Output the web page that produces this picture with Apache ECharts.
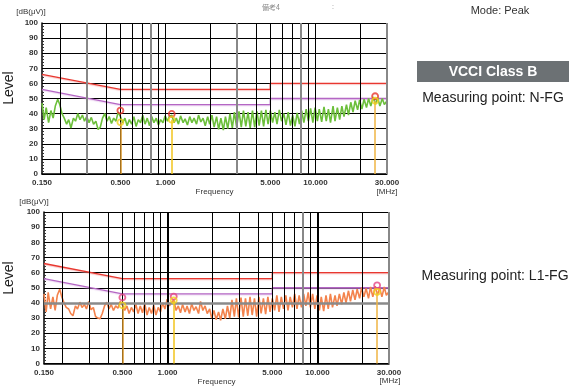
<!DOCTYPE html>
<html>
<head>
<meta charset="utf-8">
<script src="https://cdn.jsdelivr.net/npm/echarts@6/dist/echarts.min.js"></script>
<style>
html,body{margin:0;padding:0;background:#fff}
#c{width:581px;height:390px}
</style>
</head>
<body>
<div id="c"></div>
<script>
// Sweep frequencies [MHz]
const freqs = [
  0.150,0.155,0.160,0.166,0.172,0.178,0.184,0.191,0.197,0.204,
  0.211,0.219,0.226,0.234,0.243,0.251,0.260,0.269,0.279,0.288,
  0.298,0.309,0.320,0.331,0.343,0.355,0.367,0.380,0.393,0.407,
  0.421,0.436,0.451,0.467,0.483,0.500,0.518,0.536,0.554,0.574,
  0.594,0.615,0.636,0.658,0.681,0.705,0.730,0.755,0.782,0.809,
  0.837,0.867,0.897,0.928,0.961,0.994,1.03,1.06,1.10,1.14,
  1.18,1.22,1.26,1.31,1.35,1.40,1.45,1.50,1.55,1.61,
  1.66,1.72,1.78,1.84,1.91,1.97,2.04,2.11,2.19,2.26,
  2.34,2.43,2.51,2.60,2.69,2.79,2.88,2.98,3.09,3.20,
  3.31,3.43,3.55,3.67,3.80,3.93,4.07,4.21,4.36,4.51,
  4.67,4.83,5.00,5.18,5.36,5.54,5.74,5.94,6.15,6.36,
  6.58,6.81,7.05,7.30,7.55,7.82,8.09,8.37,8.67,8.97,
  9.28,9.61,9.94,10.3,10.6,11.0,11.4,11.8,12.2,12.6,
  13.1,13.5,14.0,14.5,15.0,15.5,16.1,16.6,17.2,17.8,
  18.4,19.1,19.7,20.4,21.1,21.9,22.6,23.4,24.3,25.1,
  26.0,26.9,27.9,28.8,29.8
];

// Peak trace, measuring point N-FG [dB(uV)]
const levelNFG = [
  47,36,44,34,42,37,45,49.5,46,40,
  37,33,36,30.5,37,35,40,36,39,35,
  38,34,37.5,33,35,29.5,31,37,40,35,
  38,33.5,37,35,41,38,34,37,32,36,
  33,38,31.5,36,34,39,33,37,32,38,
  34,37,32.5,36,34,38.5,35,38,39,34,
  37,33,38.5,34,36.5,32.5,38,34,37,33,
  39,34.5,37,32,38,33,39,31,38,29.5,
  37,29,38,30,40,30.5,41,31,41.5,31,
  42,31.5,41,30.5,42,31,41.5,32,42,31.5,
  42.5,33,42,34,41,33,42.5,35,40,32.5,
  41,32,39,31.5,40.5,33,42,34,43,35,
  43.5,34,44,35,43,34.5,44.5,35,43,34,
  45,35,44,36,45,38,46,39,47.5,41,
  48.5,42.5,49,43,49.5,44,50,45,51,46,
  50.5,45,50,46,48
];

// Peak trace, measuring point L1-FG [dB(uV)]
const levelL1FG = [
  46,34,47,36,44,35,45,49,44,40,
  37,36,33,31.5,38,36,40.5,37,39,36,
  41,35.5,37,31,30,29.5,33,38,40.5,36,
  39,35,38,36.5,41,38.5,35,38,33,37,
  34,39,33,38,33.5,39.5,32,37,33,38.5,
  32,37,34,40,36,42.5,38,40,42,35,
  38,33.5,39,34,38,33,39.5,35,37.5,33,
  41,35,38,33,36,30,35,29,34,28.5,
  36,29.5,38,30,42,31,43,30.5,43.5,31,
  43,31.5,44,32,43,31,44,33,43,32.5,
  44,34,43,35,45,34,44,36,45,35,
  44,37,46,36,45,37,46,38,47,37,
  46,36,45,35,44,34.5,45,36,46,37,
  45,38,46,39,47,40,48,41,48.5,42,
  49,43,50,44,49.5,43,50.5,44,51,45,
  50,44,50.5,45,47
];

// VCCI Class B conducted limits
const limitQP = [[0.15,66],[0.5,56],[5,56],[5,60],[30,60]];
const limitAV = [[0.15,56],[0.5,46],[5,46],[5,50],[30,50]];

// Marked peaks: frequency, quasi-peak level, average level
const peakFreqNFG = [0.5, 1.1, 25];
const peakQpNFG = [42, 39.8, 51.5];
const peakAvNFG = [34.2, 36, 48.5];
const peakFreqL1FG = [0.5, 1.1, 25];
const peakQpL1FG = [43.6, 44.2, 51.6];
const peakAvL1FG = [38.4, 41.7, 47.2];

// Axis ticks
const gridFreqs = [0.2,0.3,0.4,0.5,0.6,0.7,0.8,0.9,1,2,3,4,5,6,7,8,9,10,20];
const xLabelFreqs = [0.15,0.5,1,5,10,30];

const FONT = 'Liberation Sans, Arial, sans-serif';
const stemColors = ['#d9962a','#f2c51c','#efb443'];

const chart = echarts.init(document.getElementById('c'));

const grids = [
  {left:42, right:194, top:23, height:151},
  {left:44, right:192, top:212, height:151.5}
];

function xAxisFor(i){
  return {
    type:'log', gridIndex:i, min:0.15, max:30, logBase:10,
    axisLine:{show:true, lineStyle:{color:'#000', width:1.5}},
    axisTick:{show:false},
    splitLine:{show:false},
    minorSplitLine:{show:false},
    axisLabel:{
      customValues: xLabelFreqs,
      formatter: v => Number(v).toFixed(3),
      fontFamily:FONT, fontSize:8, fontWeight:'bold', color:'#333', margin:5
    },
    name:'Frequency', nameLocation:'middle', nameGap:14,
    nameTextStyle:{fontFamily:FONT, fontSize:8, color:'#333'}
  };
}
function yAxisFor(i){
  return {
    type:'value', gridIndex:i, min:0, max:100, interval:10,
    axisLine:{show:true, lineStyle:{color:'#000', width:1.5}},
    axisTick:{show:true, inside:true, length:4, lineStyle:{color:'#000'}},
    minorTick:{show:true, splitNumber:5, length:2, lineStyle:{color:'#333'}},
    splitLine:{show:true, lineStyle:{color:'#000', width:1}},
    axisLabel:{fontFamily:FONT, fontSize:8, fontWeight:'bold', color:'#333', margin:4}
  };
}

function gridLineSeries(i, grayFreqs, thickFreqs, extraH){
  const data = gridFreqs.map(f => {
    let ls = {color:'#000', width:1, type:'solid'};
    if (grayFreqs.includes(f)) ls = {color:'#888', width:2, type:'solid'};
    if (thickFreqs.includes(f)) ls = {color:'#000', width:2, type:'solid'};
    return {xAxis:f, lineStyle:ls};
  });
  data.push({xAxis:30, lineStyle:{color:'#888', width:2, type:'solid'}});
  extraH.forEach(v => data.push({yAxis:v, lineStyle:{color:'#8a8a8a', width:2.5, type:'solid'}}));
  return {
    type:'line', xAxisIndex:i, yAxisIndex:i, data:[], z:1, silent:true,
    markLine:{silent:true, symbol:'none', label:{show:false}, animation:false, data}
  };
}

function limitSeries(i, data, color, glow){
  return {
    type:'line', xAxisIndex:i, yAxisIndex:i, data, z:2, silent:true,
    symbol:'none', animation:false,
    lineStyle:{color, width:1.3, shadowColor:glow, shadowBlur:1, shadowOffsetY:1}
  };
}

function traceSeries(i, levels, color){
  return {
    type:'line', xAxisIndex:i, yAxisIndex:i, z:3, silent:true,
    data: freqs.map((f,k) => [f, levels[k]]),
    symbol:'none', animation:false,
    lineStyle:{color, width:1.6}
  };
}

function stemSeries(i, fs, av){
  return {
    type:'line', xAxisIndex:i, yAxisIndex:i, data:[], z:4, silent:true,
    markLine:{silent:true, symbol:'none', label:{show:false}, animation:false,
      data: fs.map((f,k) => [
        {coord:[f,0], lineStyle:{color:stemColors[k], width:1.5, type:'solid'}},
        {coord:[f,av[k]]}
      ])
    }
  };
}

function circleSeries(i, fs, vals, color){
  return {
    type:'scatter', xAxisIndex:i, yAxisIndex:i, z:5, silent:true, animation:false,
    data: fs.map((f,k) => [f, vals[k]]),
    symbol:'circle', symbolSize:6,
    itemStyle:{color:'rgba(255,255,255,0)', borderColor:color, borderWidth:1.8}
  };
}

function text(x, y, str, style){
  return {type:'text', x, y, silent:true,
    style:Object.assign({text:str, fontFamily:FONT, fill:'#333', align:'center', verticalAlign:'middle'}, style)};
}

chart.setOption({
  animation:false,
  backgroundColor:'#fff',
  grid: grids.map(g => Object.assign({containLabel:false}, g)),
  xAxis:[xAxisFor(0), xAxisFor(1)],
  yAxis:[yAxisFor(0), yAxisFor(1)],
  series:[
    gridLineSeries(0, [0.3,0.8,3,8], [], []),
    limitSeries(0, limitQP, '#e8372f', 'rgba(245,160,160,0.6)'),
    limitSeries(0, limitAV, '#b466c4', 'rgba(220,180,230,0.5)'),
    traceSeries(0, levelNFG, '#6cbf3b'),
    stemSeries(0, peakFreqNFG, peakAvNFG),
    circleSeries(0, peakFreqNFG, peakQpNFG, '#e8342c'),
    circleSeries(0, peakFreqNFG, peakAvNFG, '#f2d21e'),

    gridLineSeries(1, [8], [1,10], [40]),
    limitSeries(1, limitQP, '#e8372f', 'rgba(245,160,160,0.6)'),
    limitSeries(1, limitAV, '#b466c4', 'rgba(220,180,230,0.5)'),
    traceSeries(1, levelL1FG, '#f3834d'),
    stemSeries(1, peakFreqL1FG, peakAvL1FG),
    circleSeries(1, peakFreqL1FG, peakQpL1FG, '#e64482'),
    circleSeries(1, peakFreqL1FG, peakAvL1FG, '#f2d21e')
  ],
  graphic:[
    text(271, 7, '備考4', {fontSize:7, fill:'#888', fontFamily:'Noto Sans CJK JP, sans-serif'}),
    text(333, 7, ':', {fontSize:7, fill:'#888'}),
    text(500, 11, 'Mode: Peak', {fontSize:11, fill:'#333'}),
    {type:'rect', shape:{x:417, y:61, width:152, height:21}, style:{fill:'#6c7174'}, silent:true},
    text(493, 72, 'VCCI Class B', {fontSize:14, fontWeight:'bold', fill:'#fff'}),
    text(493, 98, 'Measuring point: N-FG', {fontSize:14, fill:'#222'}),
    text(495, 276, 'Measuring point: L1-FG', {fontSize:14, fill:'#222'}),

    text(31, 12, '[dB(μV)]', {fontSize:8, fill:'#333'}),
    text(34, 202, '[dB(μV)]', {fontSize:8, fill:'#333'}),
    Object.assign(text(9, 88, 'Level', {fontSize:14, fill:'#222'}), {rotation:Math.PI/2}),
    Object.assign(text(9, 278, 'Level', {fontSize:14, fill:'#222'}), {rotation:Math.PI/2}),
    text(387, 192, '[MHz]', {fontSize:8, fill:'#333'}),
    text(390, 381, '[MHz]', {fontSize:8, fill:'#333'})
  ]
});
</script>
</body>
</html>
